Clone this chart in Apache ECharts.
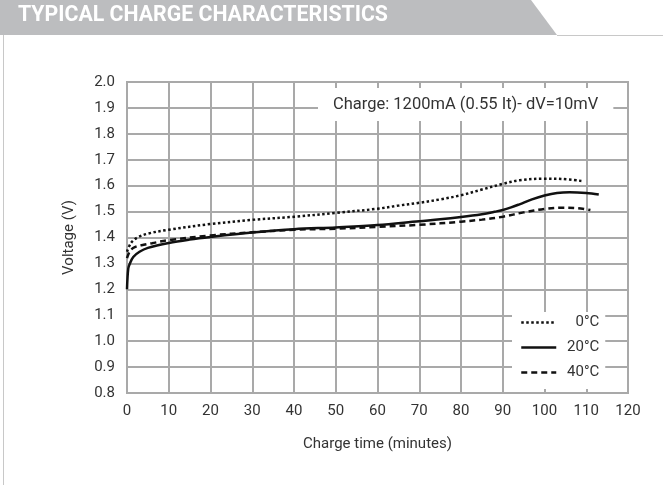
<!DOCTYPE html>
<html><head><meta charset="utf-8">
<script src="https://cdn.jsdelivr.net/npm/echarts@6/dist/echarts.min.js"></script>
<style>html,body{margin:0;padding:0;background:#fff}#c{width:663px;height:485px}</style>
</head><body><div id="c"></div>
<script>
const title = 'TYPICAL CHARGE CHARACTERISTICS';
const note = 'Charge: 1200mA (0.55 It)- dV=10mV';
const seriesNames = ['0°C', '20°C', '40°C'];
const time0 = [0, 1, 2.5, 5, 10, 20, 30, 40, 50, 60, 65, 70, 75, 80, 85, 90, 94, 100, 104, 109];
const volt0 = [1.345, 1.38, 1.40, 1.415, 1.43, 1.452, 1.468, 1.48, 1.495, 1.511, 1.523, 1.534, 1.547, 1.563, 1.585, 1.607, 1.621, 1.627, 1.626, 1.618];
const time20 = [0, 0.3, 0.7, 1.5, 3, 5, 10, 15, 20, 30, 40, 50, 60, 70, 75, 80, 85, 88, 90, 92, 94, 97, 100, 103, 106, 110, 113];
const volt20 = [1.2, 1.28, 1.30, 1.325, 1.345, 1.36, 1.379, 1.392, 1.402, 1.419, 1.432, 1.439, 1.448, 1.463, 1.47, 1.479, 1.49, 1.499, 1.506, 1.516, 1.528, 1.547, 1.562, 1.572, 1.575, 1.572, 1.566];
const time40 = [0, 0.8, 2, 4, 6, 10, 20, 30, 40, 50, 60, 70, 80, 85, 90, 95, 100, 104, 108, 111];
const volt40 = [1.32, 1.35, 1.364, 1.372, 1.378, 1.39, 1.408, 1.42, 1.43, 1.434, 1.441, 1.449, 1.461, 1.469, 1.48, 1.497, 1.51, 1.515, 1.513, 1.506];
const xName = 'Charge time (minutes)';
const yName = 'Voltage (V)';

const pair = (t, v) => t.map((x, i) => [x, v[i]]);
const gridColor = '#a9a9a9';
const font = 'Roboto';
const chart = echarts.init(document.getElementById('c'), null, {renderer: 'canvas'});
const lineBase = {type: 'line', symbol: 'none', smooth: 0.35, z: 5};
chart.setOption({
  animation: false,
  textStyle: {fontFamily: font},
  graphic: [
    {type: 'polygon', shape: {points: [[0, 0], [531, 0], [557, 35], [0, 35]]}, style: {fill: '#bcbdbf'}, z: 1},
    {type: 'line', shape: {x1: 557, y1: 35.5, x2: 663, y2: 35.5}, style: {stroke: '#c8c8c8', lineWidth: 1}},
    {type: 'line', shape: {x1: 3.5, y1: 35, x2: 3.5, y2: 485}, style: {stroke: '#c8c8c8', lineWidth: 1}},
    {type: 'text', left: 18, top: 5, style: {text: title, fill: '#fff', font: 'bold 21.3px Roboto'}, z: 2}
  ],
  title: {
    text: note, left: 318, top: 88, backgroundColor: '#fff', padding: [8, 15, 8, 15],
    textStyle: {fontSize: 16.5, fontWeight: 'normal', color: '#333', fontFamily: font}
  },
  legend: {
    orient: 'vertical', left: 512, top: 312, backgroundColor: '#fff',
    padding: [3, 6, 9, 8], itemWidth: 35, itemHeight: 14, itemGap: 10,
    data: seriesNames,
    itemStyle: {opacity: 0},
    lineStyle: {width: 2.5},
    formatter: n => '{a|' + n + '}',
    textStyle: {rich: {a: {width: 38, align: 'right', fontSize: 15, color: '#333', fontFamily: font}}}
  },
  grid: {left: 127, right: 35, top: 82, bottom: 92, show: true, borderColor: gridColor, borderWidth: 2},
  xAxis: {
    type: 'value', min: 0, max: 120, interval: 10,
    name: xName, nameLocation: 'middle', nameGap: 44,
    nameTextStyle: {fontSize: 15, color: '#333'},
    axisLine: {show: true, lineStyle: {color: gridColor, width: 2}},
    axisTick: {show: false},
    axisLabel: {fontSize: 15, color: '#333', margin: 11},
    splitLine: {show: true, lineStyle: {color: gridColor, width: 2}}
  },
  yAxis: {
    type: 'value', min: 0.8, max: 2.0, interval: 0.1,
    name: yName, nameLocation: 'middle', nameGap: 50,
    nameTextStyle: {fontSize: 15, color: '#333'},
    axisLine: {show: true, lineStyle: {color: gridColor, width: 2}},
    axisTick: {show: false},
    axisLabel: {fontSize: 15, color: '#333', margin: 12, formatter: v => v.toFixed(1)},
    splitLine: {show: true, lineStyle: {color: gridColor, width: 2}}
  },
  series: [
    Object.assign({}, lineBase, {name: seriesNames[0], data: pair(time0, volt0),
      lineStyle: {color: '#111', width: 2.5, type: [2.5, 2.5]}, itemStyle: {color: '#111'}}),
    Object.assign({}, lineBase, {name: seriesNames[1], data: pair(time20, volt20),
      lineStyle: {color: '#111', width: 2.5, type: 'solid'}, itemStyle: {color: '#111'}}),
    Object.assign({}, lineBase, {name: seriesNames[2], data: pair(time40, volt40),
      lineStyle: {color: '#111', width: 2.5, type: [6, 4]}, itemStyle: {color: '#111'}})
  ]
});
</script></body></html>
